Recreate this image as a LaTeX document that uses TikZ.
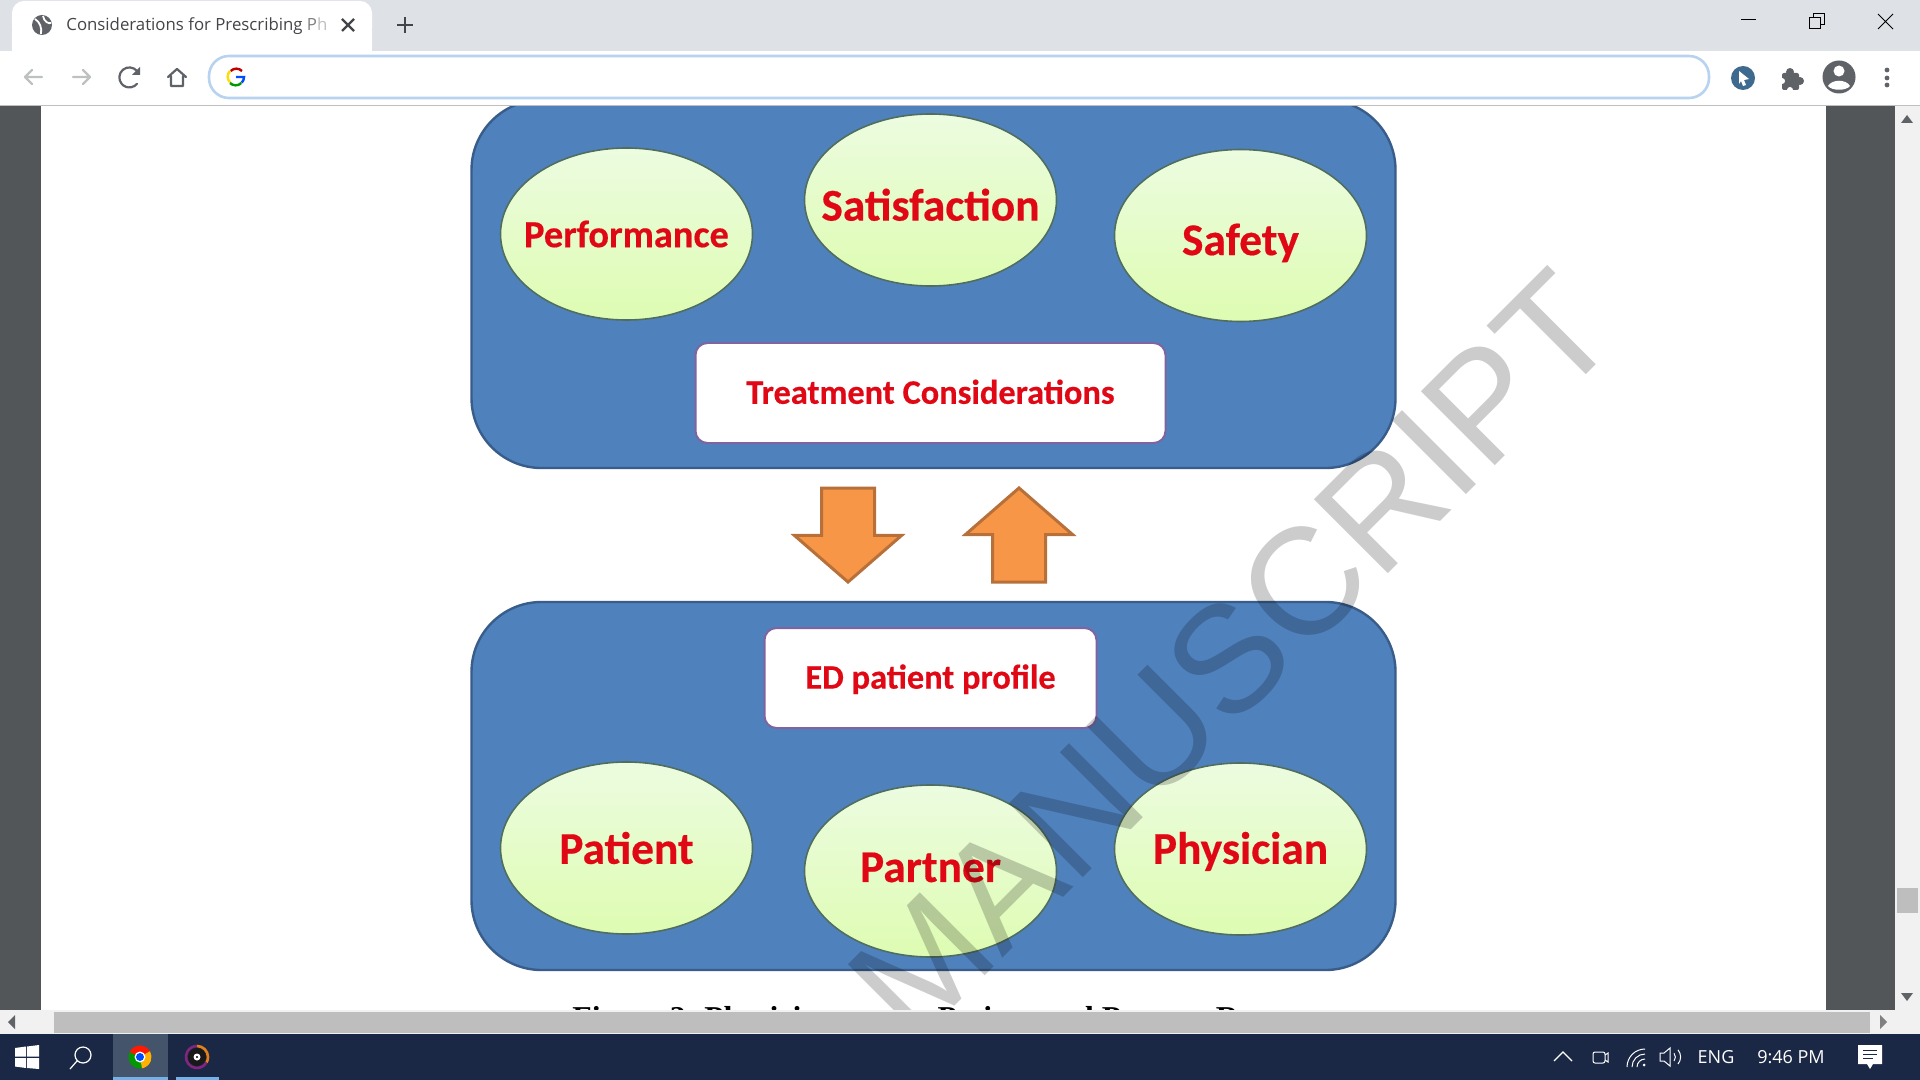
\documentclass[tikz,border=0pt]{standalone}
\usepackage{fontspec}
\setmainfont[BoldFeatures={FakeBold=0.4}]{Carlito}
\newfontfamily\uifont{Open Sans}
\newfontfamily\markfont{Liberation Sans}
\newfontfamily\capfont{Liberation Serif}
\usetikzlibrary{shapes.geometric,shapes.arrows}
\definecolor{pnblue}{RGB}{79,129,189}
\definecolor{pnblueline}{RGB}{56,93,138}
\definecolor{pnred}{RGB}{224,8,20}
\definecolor{pnpurple}{RGB}{128,100,162}
\definecolor{pnorange}{RGB}{247,150,70}
\definecolor{pnorangeline}{RGB}{184,112,58}
\definecolor{pngreentop}{RGB}{236,252,224}
\definecolor{pngreenbot}{RGB}{222,252,178}
\definecolor{pngreenline}{RGB}{80,110,95}
\definecolor{wmgray}{RGB}{204,204,204}
\definecolor{tabbar}{RGB}{222,225,230}
\definecolor{omniline}{RGB}{184,211,240}
\definecolor{icongray}{RGB}{95,99,104}
\definecolor{pointerblue}{RGB}{63,106,143}
\definecolor{navgray}{RGB}{190,192,194}
\definecolor{panelgray}{RGB}{82,86,89}
\definecolor{scrolltrack}{RGB}{241,241,241}
\definecolor{scrollthumb}{RGB}{190,190,190}
\definecolor{taskbar}{RGB}{27,40,69}
\definecolor{taskhi}{RGB}{68,84,106}
\definecolor{taskstrip}{RGB}{118,176,232}
\newcommand{\nudge}[2]{\raisebox{#1}[\height][\depth]{#2}}
\tikzstyle{panel} = [rectangle, rounded corners=35pt, draw=pnblueline, fill=pnblue, line width=1.2pt, minimum width=462pt, inner sep=0pt]
\tikzstyle{oval} = [ellipse, draw=pngreenline, line width=0.8pt, top color=pngreentop, bottom color=pngreenbot, minimum width=126pt, minimum height=86pt, inner xsep=-50pt, inner ysep=0pt, text=pnred, font=\fontsize{22.7}{26}\selectfont\bfseries]
\tikzstyle{titlebox} = [rectangle, rounded corners=6pt, draw=pnpurple, fill=white, line width=1pt, minimum height=50pt, inner sep=0pt, text=pnred, font=\fontsize{17.2}{20}\selectfont\bfseries]
\tikzstyle{blockarrow} = [single arrow, draw=pnorangeline, fill=pnorange, line width=1.5pt, minimum height=47pt, minimum width=52pt, inner xsep=0pt, inner ysep=12.5pt, single arrow head extend=13.5pt, single arrow head indent=0pt, single arrow tip angle=98, outer sep=0pt, anchor=tip]
\begin{document}
\begin{tikzpicture}[
    x=0.5pt, y=-0.5pt,
    uitext/.style={font=\uifont\fontsize{9}{11}\selectfont, inner sep=0pt},
    navline/.style={line width=1.1pt, line cap=round, line join=round}
]
\useasboundingbox (0,0) rectangle (1920,1080);
\fill[white] (0,0) rectangle (1920,1080);

% Blue panels
\node[panel, minimum height=184pt] (toppanel) at (933.5,284) {};
\node[panel, minimum height=184pt] (botpanel) at (933.5,786) {};

% Top ovals
\node[oval, font=\fontsize{19.2}{22}\selectfont\bfseries] (performance) at (626.5,234) {Performance};
\node[oval] (satisfaction) at (930.5,200) {\nudge{-2.4pt}{Satisfaction}};
\node[oval] (safety) at (1240.5,235.5) {\nudge{-3.7pt}{Safety}};
\node[titlebox, minimum width=235pt] (treatment) at (930.5,393) {\nudge{0.6pt}{Treatment Considerations}};

% Bottom ovals
\node[titlebox, minimum width=166pt] (profile) at (930.5,678) {\nudge{-0.6pt}{ED patient profile}};
\node[oval] (patient) at (626.5,848) {Patient};
\node[oval] (partner) at (930.5,871) {\nudge{1.8pt}{Partner}};
\node[oval] (physician) at (1240.5,849) {\nudge{-1.2pt}{Physician}};

% Block arrows
\node[blockarrow, rotate=-90] (downarrow) at (848,582) {};
\node[blockarrow, rotate=90] (uparrow) at (1019,488) {};

% Caption and watermark
\node[anchor=base west, inner sep=0pt, font=\capfont\fontsize{15.9}{18}\selectfont\bfseries] (caption) at (572,1028) {Figure 2. Physician versus Patient and Partner Requests};
\begin{scope}[blend mode=multiply]
\node[anchor=base west, inner sep=0pt, rotate=45, text=wmgray, font=\markfont\fontsize{76}{80}\selectfont] (watermark) at (913,1048) {MANUSCRIPT};
\end{scope}

% Side panels and scroll bars
\fill[panelgray] (0,105) rectangle (41,1010);
\fill[panelgray] (1826,105) rectangle (1895,1010);
\fill[scrolltrack] (1895,105) rectangle (1920,1034);
\fill[scrolltrack] (0,1010) rectangle (1920,1034);
\fill[scrollthumb] (54,1012) rectangle (1870,1033);
\fill[scrollthumb] (1897,888) rectangle (1918,913);
\fill[icongray] (1907,115) -- (1913,123) -- (1901,123) -- cycle;
\fill[icongray] (1907,1001) -- (1913,993) -- (1901,993) -- cycle;
\fill[icongray] (8,1022) -- (15,1015) -- (15,1029) -- cycle;
\fill[gray] (1887,1022) -- (1880,1015) -- (1880,1029) -- cycle;

% Browser bars
\fill[white] (0,51) rectangle (1920,105);
\draw[lightgray] (0,105.5) -- (1920,105.5);
\fill[tabbar] (0,0) rectangle (1920,51);
\fill[white] (12,30) rectangle (372,52);
\fill[white, rounded corners=6pt] (12,1) rectangle (372,40);
\fill[icongray] (42,25) circle (10);
\draw[white, line width=0.9pt] (35,19) .. controls (40,22) and (42,28) .. (41,34);
\draw[white, line width=0.9pt] (43,16) .. controls (44,22) and (49,24) .. (51,23);
\node[uitext, anchor=west, text=icongray!70!black, font=\uifont\fontsize{8.4}{11}\selectfont] (tabtext) at (66,26) {Considerations for Prescribing {\color{gray}P}{\color{lightgray}h}};
\draw[icongray!70!black, line width=1.2pt] (342,19) -- (354,31) (354,19) -- (342,31);
\draw[icongray!70!black, line width=1.4pt] (405,17) -- (405,33) (397,25) -- (413,25);

% Window buttons
\draw[black, line width=0.5pt] (1741,20) -- (1756,20);
\draw[black, line width=0.5pt] (1809,18) rectangle (1820,29);
\draw[black, line width=0.5pt] (1813,18) -- (1813,14) -- (1824,14) -- (1824,25) -- (1820,25);
\draw[black, line width=0.5pt] (1878,14) -- (1893,29) (1893,14) -- (1878,29);

% Toolbar
\draw[navline, navgray] (42,77) -- (25,77) (32,70) -- (25,77) -- (32,84);
\draw[navline, navgray] (73,77) -- (90,77) (83,70) -- (90,77) -- (83,84);
\draw[navline, icongray] (137,71) arc (-40:-320:10);
\fill[icongray] (140,67) -- (140,75) -- (132,75) -- cycle;
\draw[navline, icongray] (168,77) -- (177,69) -- (186,77) (171,76) -- (171,86) -- (183,86) -- (183,76);
\draw[omniline, line width=1.3pt, fill=white, rounded corners=10pt] (209,56) rectangle (1709,98);
\draw[red!75!black, line width=1.2pt] (242,71) arc (-45:-135:8);
\draw[yellow!80!orange, line width=1.2pt] (230,71) arc (-135:-225:8);
\draw[green!60!black, line width=1.2pt] (230,83) arc (-225:-315:8);
\draw[blue!70!cyan, line width=1.2pt] (241.7,82.7) arc (45:0:8) -- (236,77);
\fill[pointerblue] (1743,78) circle (12);
\fill[white] (1739,71) -- (1749,79) -- (1744,80) -- (1746,85) -- (1743,86) -- (1741,81) -- (1739,84) -- cycle;
\fill[icongray, rounded corners=1pt] (1782,73) rectangle (1799,90);
\fill[icongray] (1790,72) circle (4) (1800,81) circle (4);
\fill[white] (1782,81) circle (3);
\fill[white] (1790,90) circle (3);
\fill[icongray] (1839,77) circle (16.5);
\fill[white] (1839,71) circle (5.5);
\fill[white] (1828,86) .. controls (1832,79) and (1846,79) .. (1850,86) .. controls (1846,91) and (1832,91) .. (1828,86);
\fill[icongray] (1887,70) circle (2.4) (1887,78) circle (2.4) (1887,85) circle (2.4);

% Taskbar
\fill[taskbar] (0,1034) rectangle (1920,1080);
\fill[taskhi] (113,1034) rectangle (168,1080);
\fill[taskstrip] (113,1077) rectangle (168,1080);
\fill[taskstrip] (176,1077) rectangle (219,1080);
\fill[white] (15,1048) -- (26,1046.5) -- (26,1056.5) -- (15,1056.5) -- cycle;
\fill[white] (27,1046.5) -- (39,1045) -- (39,1056.5) -- (27,1056.5) -- cycle;
\fill[white] (15,1058) -- (26,1058) -- (26,1068) -- (15,1066.5) -- cycle;
\fill[white] (27,1058) -- (39,1058) -- (39,1069) -- (27,1068) -- cycle;
\draw[white, line width=0.6pt] (83,1055) circle (8) (77,1061) -- (70,1069);
\fill[red!80!orange] (140,1057) -- (129.6,1052.1) arc (-155:-30:11.5) -- cycle;
\fill[green!60!black] (140,1057) -- (129.6,1052.1) arc (-155:-280:11.5) -- cycle;
\fill[orange!60!yellow] (140,1057) -- (142,1068.3) arc (-280:-390:11.5) -- cycle;
\fill[white] (140,1057) circle (5.5);
\fill[blue!70!cyan] (140,1057) circle (4);
\draw[orange!60!brown, line width=1.3pt] (197,1046) arc (-90:30:11);
\draw[violet!70!gray, line width=1.3pt] (206.5,1062.5) arc (30:270:11);
\fill[black!80!gray] (197,1057) circle (9);
\fill[white] (197,1057) circle (3.5);
\fill[black] (197,1057) circle (1.2);
\draw[white, line width=0.6pt] (1554,1061) -- (1563,1052) -- (1572,1061);
\draw[white, line width=0.5pt, rounded corners=1pt] (1593,1052) rectangle (1605,1063);
\draw[white, line width=0.5pt] (1605,1055) -- (1608,1053) -- (1608,1062) -- (1605,1060);
\draw[white, line width=0.5pt] (1627,1067) arc (-180:-90:18) (1632,1067) arc (-180:-90:13) (1637,1067) arc (-180:-90:8);
\fill[white] (1644,1065) circle (1.5);
\draw[white, line width=0.5pt] (1660,1053) -- (1664,1053) -- (1670,1048) -- (1670,1066) -- (1664,1061) -- (1660,1061) -- cycle;
\draw[white, line width=0.5pt] (1674,1061) arc (40:-40:6) (1678,1064) arc (40:-40:11);
\node[uitext, text=white] (lang) at (1716,1057) {ENG};
\node[uitext, text=white] (clock) at (1791,1057) {9:46 PM};
\fill[white] (1858,1045) -- (1882,1045) -- (1882,1064) -- (1873,1064) -- (1870,1069) -- (1867,1064) -- (1858,1064) -- cycle;
\draw[taskbar, line width=0.5pt] (1863,1050) -- (1877,1050) (1863,1054) -- (1877,1054) (1863,1058) -- (1873,1058);
\end{tikzpicture}
\end{document}
